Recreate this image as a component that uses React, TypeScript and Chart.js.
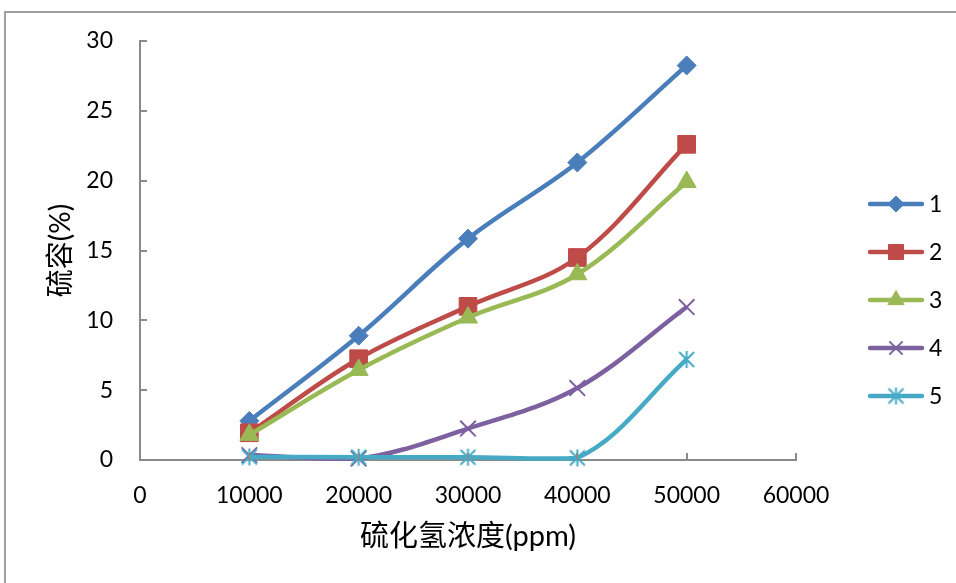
import React, { useEffect, useRef } from 'react';
import { Chart, registerables } from 'chart.js';
import { drawPoint } from 'chart.js/helpers';

Chart.register(...registerables);

// ---- data ----
const xValues = [10000, 20000, 30000, 40000, 50000];
const xTickLabels = ['0', '10000', '20000', '30000', '40000', '50000', '60000'];
const yTickLabels = ['0', '5', '10', '15', '20', '25', '30'];
const seriesNames = ['1', '2', '3', '4', '5'];
const series1 = [2.8, 8.9, 15.85, 21.3, 28.25];
const series2 = [1.95, 7.25, 11.0, 14.5, 22.6];
const series3 = [1.8, 6.45, 10.2, 13.3, 19.9];
const series4 = [0.35, 0.1, 2.25, 5.15, 10.95];
const series5 = [0.22, 0.2, 0.2, 0.15, 7.2];
const xTitle = '硫化氢浓度(ppm)';
const yTitle = '硫容(%)';

const colors = ['#4A7EBB', '#BE4B48', '#98B954', '#7D60A0', '#46AAC5'];

function makeStar(color: string, size: number, lw: number) {
  const c = document.createElement('canvas');
  c.width = size + 4;
  c.height = size + 4;
  const ctx = c.getContext('2d')!;
  const m = c.width / 2;
  const h = size / 2;
  ctx.strokeStyle = color;
  ctx.lineWidth = lw;
  ctx.beginPath();
  ctx.moveTo(m - h, m - h);
  ctx.lineTo(m + h, m + h);
  ctx.moveTo(m + h, m - h);
  ctx.lineTo(m - h, m + h);
  ctx.moveTo(m, m - h - 1);
  ctx.lineTo(m, m + h + 1);
  ctx.stroke();
  return c;
}

const FONT = "Lato, 'Noto Sans CJK SC', sans-serif";

export default function App() {
  const ref = useRef<HTMLCanvasElement>(null);

  useEffect(() => {
    if (!ref.current) return;
    const all = [series1, series2, series3, series4, series5];
    const styles: any[] = ['rectRot', 'rect', 'triangle', 'crossRot', makeStar(colors[4], 15, 2)];
    const radii = [9.5, 12.5, 11, 11, 8];
    const pbw = [1, 1, 1, 2, 2];

    const datasets = all.map((vals, i) => ({
      label: seriesNames[i],
      data: xValues.map((x, j) => ({ x, y: vals[j] })),
      borderColor: colors[i],
      backgroundColor: colors[i],
      pointBackgroundColor: colors[i],
      pointBorderColor: colors[i],
      pointStyle: styles[i],
      pointRadius: radii[i],
      pointBorderWidth: pbw[i],
      borderWidth: 4.5,
      tension: 0.35,
      showLine: true,
      clip: false as any,
      order: 5 - i,
    }));

    const axisColor = '#8a8a8a';

    const decor = {
      id: 'decor',
      afterDraw(chart: any) {
        const ctx = chart.ctx;
        const xs = chart.scales.x;
        const ys = chart.scales.y;
        ctx.save();
        ctx.strokeStyle = axisColor;
        ctx.lineWidth = 2;
        // inward tick marks
        xs.ticks.forEach((t: any) => {
          const px = Math.round(xs.getPixelForValue(t.value));
          ctx.beginPath();
          ctx.moveTo(px, ys.bottom);
          ctx.lineTo(px, ys.bottom - 7);
          ctx.stroke();
        });
        ys.ticks.forEach((t: any) => {
          const py = Math.round(ys.getPixelForValue(t.value));
          ctx.beginPath();
          ctx.moveTo(xs.left, py);
          ctx.lineTo(xs.left + 7, py);
          ctx.stroke();
        });
        // legend
        const lx0 = 870, lx1 = 922, y0 = 204, step = 48;
        chart.data.datasets.forEach((ds: any, i: number) => {
          const y = y0 + i * step;
          ctx.strokeStyle = ds.borderColor;
          ctx.lineWidth = 4.5;
          ctx.lineCap = 'round';
          ctx.beginPath();
          ctx.moveTo(lx0, y);
          ctx.lineTo(lx1, y);
          ctx.stroke();
          ctx.lineCap = 'butt';
          ctx.fillStyle = ds.pointBackgroundColor;
          ctx.strokeStyle = ds.pointBorderColor;
          ctx.lineWidth = ds.pointBorderWidth;
          drawPoint(ctx, { pointStyle: ds.pointStyle, radius: ds.pointRadius * 0.85, rotation: 0, borderWidth: ds.pointBorderWidth } as any, (lx0 + lx1) / 2, y);
          ctx.fillStyle = '#000';
          ctx.font = '23px ' + FONT;
          ctx.textBaseline = 'middle';
          ctx.textAlign = 'left';
          ctx.fillText(ds.label, 929, y + 1);
        });
        ctx.restore();
      },
    };

    const chart = new Chart(ref.current, {
      type: 'scatter',
      data: { datasets } as any,
      options: {
        animation: false,
        responsive: false,
        devicePixelRatio: 1,
        layout: { padding: { top: 41, right: 160, bottom: 0, left: 0 } },
        plugins: { legend: { display: false }, tooltip: { enabled: false } },
        scales: {
          x: {
            type: 'linear',
            min: 0,
            max: 60000,
            ticks: {
              stepSize: 10000,
              color: '#000',
              padding: 22,
              maxRotation: 0,
              font: { family: FONT, size: 23 },
              callback: (_v: any, i: number) => xTickLabels[i],
            },
            grid: { display: false, drawTicks: false },
            border: { display: true, color: axisColor, width: 2 },
            title: {
              display: true,
              text: xTitle,
              color: '#000',
              font: { family: FONT, size: 29 },
              padding: { top: 0, bottom: 29 },
            },
            afterFit: (s: any) => { s.height = 123; },
          },
          y: {
            type: 'linear',
            min: 0,
            max: 30,
            ticks: {
              stepSize: 5,
              color: '#000',
              padding: 27,
              font: { family: FONT, size: 23 },
              callback: (_v: any, i: number) => yTickLabels[i],
            },
            grid: { display: false, drawTicks: false },
            border: { display: true, color: axisColor, width: 2 },
            title: {
              display: true,
              text: yTitle,
              color: '#000',
              font: { family: FONT, size: 28 },
              padding: { top: 44, bottom: 0 },
            },
            afterFit: (s: any) => { s.width = 140; },
          },
        },
      } as any,
      plugins: [decor],
    });
    return () => chart.destroy();
  }, []);

  return (
    <div style={{ position: 'fixed', left: 0, top: 0, width: 956, height: 583, overflow: 'hidden', background: '#fff' }}>
      <div style={{ position: 'absolute', left: 4, top: 11, width: 1000, height: 700, borderTop: '2px solid #a0a0a0', borderLeft: '2px solid #a0a0a0' }} />
      <canvas ref={ref} width={956} height={583} style={{ position: 'absolute', left: 0, top: 0, width: 956, height: 583 }} />
    </div>
  );
}
